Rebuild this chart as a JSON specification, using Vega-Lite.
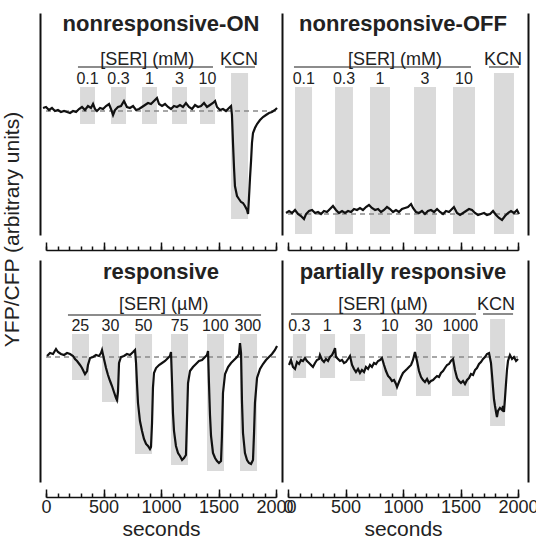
{
"$schema": "https://vega.github.io/schema/vega-lite/v6.json",
"padding": {"left": 0, "top": 12, "right": 0, "bottom": 0},
"config": {"font": "Liberation Sans", "view": {"stroke": null}, "axis": {"grid": false, "domainColor": "#111", "tickColor": "#111", "labelColor": "#222", "titleColor": "#222", "titleFontWeight": "normal"}},
"columns": 2,
"spacing": {"row": 25, "column": 12},
"bounds": "flush",
"datasets": {
"bars": [
{"p":"TL","t0":296,"t1":426,"v0":111,"v1":148},
{"p":"TL","t0":565,"t1":696,"v0":111,"v1":148},
{"p":"TL","t0":835,"t1":965,"v0":111,"v1":148},
{"p":"TL","t0":1096,"t1":1226,"v0":111,"v1":148},
{"p":"TL","t0":1339,"t1":1470,"v0":111,"v1":148},
{"p":"TL","t0":1609,"t1":1757,"v0":16,"v1":162},
{"p":"TR","t0":61,"t1":209,"v0":1,"v1":148},
{"p":"TR","t0":409,"t1":565,"v0":1,"v1":148},
{"p":"TR","t0":713,"t1":887,"v0":1,"v1":148},
{"p":"TR","t0":1096,"t1":1287,"v0":1,"v1":148},
{"p":"TR","t0":1435,"t1":1626,"v0":1,"v1":148},
{"p":"TR","t0":1791,"t1":1965,"v0":1,"v1":162},
{"p":"BL","t0":226,"t1":374,"v0":102,"v1":148},
{"p":"BL","t0":487,"t1":635,"v0":80,"v1":148},
{"p":"BL","t0":774,"t1":922,"v0":28,"v1":148},
{"p":"BL","t0":1087,"t1":1235,"v0":17,"v1":148},
{"p":"BL","t0":1400,"t1":1548,"v0":11,"v1":148},
{"p":"BL","t0":1687,"t1":1835,"v0":11,"v1":148},
{"p":"BR","t0":43,"t1":157,"v0":104,"v1":148},
{"p":"BR","t0":278,"t1":409,"v0":104,"v1":148},
{"p":"BR","t0":539,"t1":670,"v0":101,"v1":148},
{"p":"BR","t0":817,"t1":948,"v0":86,"v1":148},
{"p":"BR","t0":1113,"t1":1243,"v0":86,"v1":148},
{"p":"BR","t0":1426,"t1":1574,"v0":86,"v1":148},
{"p":"BR","t0":1757,"t1":1887,"v0":56,"v1":163}
],
"base": [{"p":"TL","v":124},{"p":"TR","v":21},{"p":"BL","v":125},{"p":"BR","v":125}],
"brackets": [
{"p":"TL","t0":278,"t1":1452,"v":168},
{"p":"TL","t0":1557,"t1":1817,"v":168},
{"p":"TR","t0":52,"t1":1591,"v":168},
{"p":"TR","t0":1748,"t1":2009,"v":168},
{"p":"BL","t0":191,"t1":1870,"v":167},
{"p":"BR","t0":26,"t1":1635,"v":168},
{"p":"BR","t0":1696,"t1":1957,"v":168}
],
"labels": [
{"p":"TL","kind":"title","t":1000,"v":204,"label":"nonresponsive-ON"},
{"p":"TL","kind":"group","t":880,"v":170,"label":"[SER] (mM)"},
{"p":"TL","kind":"group","t":1678,"v":170,"label":"KCN"},
{"p":"TL","kind":"dose","t":361,"v":151,"label":"0.1"},
{"p":"TL","kind":"dose","t":630,"v":151,"label":"0.3"},
{"p":"TL","kind":"dose","t":900,"v":151,"label":"1"},
{"p":"TL","kind":"dose","t":1161,"v":151,"label":"3"},
{"p":"TL","kind":"dose","t":1404,"v":151,"label":"10"},
{"p":"TR","kind":"title","t":1000,"v":204,"label":"nonresponsive-OFF"},
{"p":"TR","kind":"group","t":930,"v":170,"label":"[SER] (mM)"},
{"p":"TR","kind":"group","t":1870,"v":170,"label":"KCN"},
{"p":"TR","kind":"dose","t":137,"v":151,"label":"0.1"},
{"p":"TR","kind":"dose","t":487,"v":151,"label":"0.3"},
{"p":"TR","kind":"dose","t":800,"v":151,"label":"1"},
{"p":"TR","kind":"dose","t":1191,"v":151,"label":"3"},
{"p":"TR","kind":"dose","t":1530,"v":151,"label":"10"},
{"p":"BL","kind":"title","t":1000,"v":203,"label":"responsive"},
{"p":"BL","kind":"group","t":1024,"v":172,"label":"[SER] (µM)"},
{"p":"BL","kind":"dose","t":298,"v":151,"label":"25"},
{"p":"BL","kind":"dose","t":560,"v":151,"label":"30"},
{"p":"BL","kind":"dose","t":848,"v":151,"label":"50"},
{"p":"BL","kind":"dose","t":1163,"v":151,"label":"75"},
{"p":"BL","kind":"dose","t":1472,"v":151,"label":"100"},
{"p":"BL","kind":"dose","t":1755,"v":151,"label":"300"},
{"p":"BR","kind":"title","t":1000,"v":203,"label":"partially responsive"},
{"p":"BR","kind":"group","t":826,"v":172,"label":"[SER] (µM)"},
{"p":"BR","kind":"group","t":1809,"v":172,"label":"KCN"},
{"p":"BR","kind":"dose","t":98,"v":151,"label":"0.3"},
{"p":"BR","kind":"dose","t":341,"v":151,"label":"1"},
{"p":"BR","kind":"dose","t":602,"v":151,"label":"3"},
{"p":"BR","kind":"dose","t":885,"v":151,"label":"10"},
{"p":"BR","kind":"dose","t":1180,"v":151,"label":"30"},
{"p":"BR","kind":"dose","t":1498,"v":151,"label":"1000"}
],
"trace": [
{"p":"TL","t":-26,"v":127},{"p":"TL","t":0,"v":128},{"p":"TL","t":26,"v":125},{"p":"TL","t":52,"v":127},{"p":"TL","t":78,"v":124},{"p":"TL","t":104,"v":125},{"p":"TL","t":130,"v":123},{"p":"TL","t":157,"v":124},{"p":"TL","t":183,"v":123},{"p":"TL","t":209,"v":122},{"p":"TL","t":235,"v":124},{"p":"TL","t":261,"v":123},{"p":"TL","t":287,"v":126},{"p":"TL","t":313,"v":128},{"p":"TL","t":339,"v":125},{"p":"TL","t":365,"v":129},{"p":"TL","t":391,"v":127},{"p":"TL","t":409,"v":131},{"p":"TL","t":426,"v":126},{"p":"TL","t":443,"v":124},{"p":"TL","t":470,"v":127},{"p":"TL","t":496,"v":126},{"p":"TL","t":522,"v":129},{"p":"TL","t":548,"v":131},{"p":"TL","t":565,"v":126},{"p":"TL","t":583,"v":120},{"p":"TL","t":600,"v":125},{"p":"TL","t":626,"v":128},{"p":"TL","t":652,"v":129},{"p":"TL","t":678,"v":134},{"p":"TL","t":704,"v":128},{"p":"TL","t":730,"v":127},{"p":"TL","t":757,"v":129},{"p":"TL","t":783,"v":125},{"p":"TL","t":809,"v":126},{"p":"TL","t":835,"v":128},{"p":"TL","t":861,"v":130},{"p":"TL","t":887,"v":132},{"p":"TL","t":913,"v":131},{"p":"TL","t":939,"v":134},{"p":"TL","t":965,"v":137},{"p":"TL","t":983,"v":131},{"p":"TL","t":1009,"v":129},{"p":"TL","t":1035,"v":131},{"p":"TL","t":1061,"v":128},{"p":"TL","t":1087,"v":126},{"p":"TL","t":1113,"v":129},{"p":"TL","t":1139,"v":128},{"p":"TL","t":1165,"v":130},{"p":"TL","t":1191,"v":128},{"p":"TL","t":1217,"v":132},{"p":"TL","t":1243,"v":128},{"p":"TL","t":1270,"v":126},{"p":"TL","t":1296,"v":130},{"p":"TL","t":1322,"v":128},{"p":"TL","t":1348,"v":129},{"p":"TL","t":1374,"v":132},{"p":"TL","t":1400,"v":128},{"p":"TL","t":1426,"v":130},{"p":"TL","t":1452,"v":132},{"p":"TL","t":1470,"v":134},{"p":"TL","t":1487,"v":128},{"p":"TL","t":1513,"v":125},{"p":"TL","t":1539,"v":126},{"p":"TL","t":1565,"v":124},{"p":"TL","t":1591,"v":127},{"p":"TL","t":1609,"v":129},{"p":"TL","t":1617,"v":120},{"p":"TL","t":1626,"v":92},{"p":"TL","t":1635,"v":67},{"p":"TL","t":1643,"v":49},{"p":"TL","t":1661,"v":39},{"p":"TL","t":1678,"v":36},{"p":"TL","t":1696,"v":33},{"p":"TL","t":1713,"v":32},{"p":"TL","t":1730,"v":29},{"p":"TL","t":1748,"v":25},{"p":"TL","t":1757,"v":21},{"p":"TL","t":1765,"v":37},{"p":"TL","t":1774,"v":57},{"p":"TL","t":1783,"v":74},{"p":"TL","t":1791,"v":92},{"p":"TL","t":1800,"v":102},{"p":"TL","t":1817,"v":107},{"p":"TL","t":1835,"v":111},{"p":"TL","t":1861,"v":115},{"p":"TL","t":1887,"v":118},{"p":"TL","t":1913,"v":120},{"p":"TL","t":1939,"v":122},{"p":"TL","t":1965,"v":123},{"p":"TL","t":1991,"v":125},{"p":"TL","t":2009,"v":127},
{"p":"TR","t":-17,"v":22},{"p":"TR","t":9,"v":24},{"p":"TR","t":35,"v":22},{"p":"TR","t":61,"v":25},{"p":"TR","t":87,"v":21},{"p":"TR","t":113,"v":19},{"p":"TR","t":139,"v":16},{"p":"TR","t":157,"v":21},{"p":"TR","t":183,"v":24},{"p":"TR","t":209,"v":25},{"p":"TR","t":235,"v":22},{"p":"TR","t":261,"v":23},{"p":"TR","t":287,"v":21},{"p":"TR","t":313,"v":24},{"p":"TR","t":339,"v":23},{"p":"TR","t":365,"v":26},{"p":"TR","t":391,"v":29},{"p":"TR","t":417,"v":25},{"p":"TR","t":443,"v":22},{"p":"TR","t":470,"v":24},{"p":"TR","t":496,"v":22},{"p":"TR","t":522,"v":24},{"p":"TR","t":548,"v":23},{"p":"TR","t":574,"v":26},{"p":"TR","t":600,"v":25},{"p":"TR","t":626,"v":27},{"p":"TR","t":652,"v":25},{"p":"TR","t":678,"v":28},{"p":"TR","t":704,"v":30},{"p":"TR","t":730,"v":27},{"p":"TR","t":757,"v":25},{"p":"TR","t":783,"v":26},{"p":"TR","t":809,"v":23},{"p":"TR","t":835,"v":25},{"p":"TR","t":861,"v":28},{"p":"TR","t":887,"v":26},{"p":"TR","t":913,"v":23},{"p":"TR","t":939,"v":25},{"p":"TR","t":965,"v":23},{"p":"TR","t":991,"v":26},{"p":"TR","t":1017,"v":27},{"p":"TR","t":1043,"v":28},{"p":"TR","t":1070,"v":31},{"p":"TR","t":1087,"v":27},{"p":"TR","t":1113,"v":23},{"p":"TR","t":1139,"v":22},{"p":"TR","t":1165,"v":24},{"p":"TR","t":1191,"v":21},{"p":"TR","t":1217,"v":24},{"p":"TR","t":1243,"v":25},{"p":"TR","t":1270,"v":23},{"p":"TR","t":1296,"v":26},{"p":"TR","t":1322,"v":23},{"p":"TR","t":1348,"v":21},{"p":"TR","t":1374,"v":24},{"p":"TR","t":1400,"v":23},{"p":"TR","t":1426,"v":26},{"p":"TR","t":1443,"v":28},{"p":"TR","t":1470,"v":22},{"p":"TR","t":1496,"v":20},{"p":"TR","t":1522,"v":22},{"p":"TR","t":1548,"v":24},{"p":"TR","t":1574,"v":26},{"p":"TR","t":1600,"v":25},{"p":"TR","t":1626,"v":22},{"p":"TR","t":1652,"v":20},{"p":"TR","t":1678,"v":21},{"p":"TR","t":1705,"v":22},{"p":"TR","t":1730,"v":20},{"p":"TR","t":1757,"v":21},{"p":"TR","t":1783,"v":24},{"p":"TR","t":1809,"v":20},{"p":"TR","t":1835,"v":17},{"p":"TR","t":1861,"v":15},{"p":"TR","t":1887,"v":19},{"p":"TR","t":1913,"v":22},{"p":"TR","t":1939,"v":24},{"p":"TR","t":1965,"v":22},{"p":"TR","t":1991,"v":25},{"p":"TR","t":2009,"v":21},
{"p":"BL","t":9,"v":126},{"p":"BL","t":35,"v":129},{"p":"BL","t":61,"v":128},{"p":"BL","t":87,"v":133},{"p":"BL","t":104,"v":130},{"p":"BL","t":130,"v":128},{"p":"BL","t":157,"v":127},{"p":"BL","t":183,"v":129},{"p":"BL","t":209,"v":128},{"p":"BL","t":235,"v":126},{"p":"BL","t":252,"v":123},{"p":"BL","t":270,"v":121},{"p":"BL","t":296,"v":117},{"p":"BL","t":313,"v":114},{"p":"BL","t":330,"v":110},{"p":"BL","t":339,"v":108},{"p":"BL","t":357,"v":111},{"p":"BL","t":365,"v":117},{"p":"BL","t":383,"v":124},{"p":"BL","t":409,"v":125},{"p":"BL","t":435,"v":127},{"p":"BL","t":461,"v":126},{"p":"BL","t":478,"v":129},{"p":"BL","t":487,"v":132},{"p":"BL","t":504,"v":123},{"p":"BL","t":522,"v":114},{"p":"BL","t":539,"v":107},{"p":"BL","t":557,"v":101},{"p":"BL","t":574,"v":96},{"p":"BL","t":591,"v":90},{"p":"BL","t":609,"v":84},{"p":"BL","t":617,"v":82},{"p":"BL","t":626,"v":90},{"p":"BL","t":635,"v":119},{"p":"BL","t":652,"v":125},{"p":"BL","t":678,"v":126},{"p":"BL","t":704,"v":128},{"p":"BL","t":730,"v":127},{"p":"BL","t":757,"v":130},{"p":"BL","t":774,"v":132},{"p":"BL","t":783,"v":119},{"p":"BL","t":791,"v":99},{"p":"BL","t":800,"v":79},{"p":"BL","t":817,"v":61},{"p":"BL","t":835,"v":51},{"p":"BL","t":852,"v":43},{"p":"BL","t":870,"v":38},{"p":"BL","t":887,"v":36},{"p":"BL","t":904,"v":33},{"p":"BL","t":913,"v":35},{"p":"BL","t":922,"v":59},{"p":"BL","t":930,"v":94},{"p":"BL","t":939,"v":109},{"p":"BL","t":957,"v":114},{"p":"BL","t":983,"v":117},{"p":"BL","t":1009,"v":119},{"p":"BL","t":1035,"v":121},{"p":"BL","t":1061,"v":124},{"p":"BL","t":1078,"v":126},{"p":"BL","t":1087,"v":130},{"p":"BL","t":1096,"v":99},{"p":"BL","t":1104,"v":69},{"p":"BL","t":1113,"v":51},{"p":"BL","t":1130,"v":36},{"p":"BL","t":1148,"v":29},{"p":"BL","t":1165,"v":26},{"p":"BL","t":1183,"v":22},{"p":"BL","t":1200,"v":24},{"p":"BL","t":1217,"v":27},{"p":"BL","t":1226,"v":62},{"p":"BL","t":1235,"v":99},{"p":"BL","t":1252,"v":111},{"p":"BL","t":1278,"v":115},{"p":"BL","t":1304,"v":118},{"p":"BL","t":1330,"v":121},{"p":"BL","t":1357,"v":122},{"p":"BL","t":1383,"v":125},{"p":"BL","t":1400,"v":127},{"p":"BL","t":1409,"v":131},{"p":"BL","t":1417,"v":99},{"p":"BL","t":1426,"v":67},{"p":"BL","t":1435,"v":46},{"p":"BL","t":1452,"v":29},{"p":"BL","t":1470,"v":24},{"p":"BL","t":1487,"v":21},{"p":"BL","t":1504,"v":19},{"p":"BL","t":1522,"v":21},{"p":"BL","t":1530,"v":46},{"p":"BL","t":1539,"v":89},{"p":"BL","t":1557,"v":108},{"p":"BL","t":1583,"v":115},{"p":"BL","t":1609,"v":119},{"p":"BL","t":1635,"v":122},{"p":"BL","t":1661,"v":125},{"p":"BL","t":1678,"v":128},{"p":"BL","t":1687,"v":139},{"p":"BL","t":1696,"v":129},{"p":"BL","t":1704,"v":81},{"p":"BL","t":1713,"v":49},{"p":"BL","t":1730,"v":29},{"p":"BL","t":1748,"v":22},{"p":"BL","t":1765,"v":19},{"p":"BL","t":1783,"v":18},{"p":"BL","t":1800,"v":22},{"p":"BL","t":1809,"v":49},{"p":"BL","t":1817,"v":79},{"p":"BL","t":1835,"v":104},{"p":"BL","t":1861,"v":113},{"p":"BL","t":1887,"v":118},{"p":"BL","t":1913,"v":122},{"p":"BL","t":1939,"v":125},{"p":"BL","t":1965,"v":128},{"p":"BL","t":1991,"v":132},{"p":"BL","t":2009,"v":136},
{"p":"BR","t":9,"v":117},{"p":"BR","t":26,"v":122},{"p":"BR","t":43,"v":115},{"p":"BR","t":61,"v":113},{"p":"BR","t":78,"v":120},{"p":"BR","t":96,"v":118},{"p":"BR","t":113,"v":122},{"p":"BR","t":130,"v":121},{"p":"BR","t":148,"v":124},{"p":"BR","t":165,"v":121},{"p":"BR","t":183,"v":119},{"p":"BR","t":200,"v":117},{"p":"BR","t":217,"v":115},{"p":"BR","t":235,"v":119},{"p":"BR","t":252,"v":122},{"p":"BR","t":270,"v":123},{"p":"BR","t":278,"v":127},{"p":"BR","t":296,"v":122},{"p":"BR","t":313,"v":120},{"p":"BR","t":330,"v":123},{"p":"BR","t":348,"v":121},{"p":"BR","t":365,"v":125},{"p":"BR","t":383,"v":127},{"p":"BR","t":400,"v":131},{"p":"BR","t":409,"v":134},{"p":"BR","t":417,"v":125},{"p":"BR","t":435,"v":123},{"p":"BR","t":452,"v":121},{"p":"BR","t":470,"v":122},{"p":"BR","t":487,"v":119},{"p":"BR","t":504,"v":120},{"p":"BR","t":522,"v":123},{"p":"BR","t":539,"v":126},{"p":"BR","t":557,"v":117},{"p":"BR","t":574,"v":113},{"p":"BR","t":591,"v":110},{"p":"BR","t":609,"v":113},{"p":"BR","t":626,"v":109},{"p":"BR","t":643,"v":112},{"p":"BR","t":661,"v":110},{"p":"BR","t":678,"v":115},{"p":"BR","t":696,"v":113},{"p":"BR","t":713,"v":117},{"p":"BR","t":730,"v":115},{"p":"BR","t":748,"v":119},{"p":"BR","t":765,"v":118},{"p":"BR","t":783,"v":121},{"p":"BR","t":800,"v":122},{"p":"BR","t":817,"v":124},{"p":"BR","t":835,"v":117},{"p":"BR","t":852,"v":111},{"p":"BR","t":870,"v":106},{"p":"BR","t":887,"v":104},{"p":"BR","t":904,"v":101},{"p":"BR","t":922,"v":102},{"p":"BR","t":939,"v":98},{"p":"BR","t":948,"v":95},{"p":"BR","t":965,"v":100},{"p":"BR","t":983,"v":105},{"p":"BR","t":1000,"v":109},{"p":"BR","t":1017,"v":111},{"p":"BR","t":1035,"v":113},{"p":"BR","t":1052,"v":115},{"p":"BR","t":1070,"v":117},{"p":"BR","t":1087,"v":122},{"p":"BR","t":1104,"v":130},{"p":"BR","t":1122,"v":121},{"p":"BR","t":1139,"v":111},{"p":"BR","t":1157,"v":105},{"p":"BR","t":1174,"v":102},{"p":"BR","t":1191,"v":100},{"p":"BR","t":1209,"v":103},{"p":"BR","t":1226,"v":99},{"p":"BR","t":1243,"v":101},{"p":"BR","t":1261,"v":102},{"p":"BR","t":1278,"v":104},{"p":"BR","t":1296,"v":106},{"p":"BR","t":1313,"v":105},{"p":"BR","t":1330,"v":109},{"p":"BR","t":1348,"v":111},{"p":"BR","t":1365,"v":114},{"p":"BR","t":1383,"v":117},{"p":"BR","t":1400,"v":118},{"p":"BR","t":1417,"v":121},{"p":"BR","t":1435,"v":123},{"p":"BR","t":1452,"v":112},{"p":"BR","t":1470,"v":104},{"p":"BR","t":1487,"v":101},{"p":"BR","t":1504,"v":99},{"p":"BR","t":1522,"v":101},{"p":"BR","t":1539,"v":98},{"p":"BR","t":1557,"v":102},{"p":"BR","t":1574,"v":104},{"p":"BR","t":1591,"v":108},{"p":"BR","t":1609,"v":107},{"p":"BR","t":1626,"v":112},{"p":"BR","t":1643,"v":114},{"p":"BR","t":1661,"v":118},{"p":"BR","t":1678,"v":120},{"p":"BR","t":1696,"v":123},{"p":"BR","t":1713,"v":125},{"p":"BR","t":1730,"v":128},{"p":"BR","t":1748,"v":129},{"p":"BR","t":1765,"v":119},{"p":"BR","t":1774,"v":107},{"p":"BR","t":1783,"v":94},{"p":"BR","t":1791,"v":83},{"p":"BR","t":1800,"v":76},{"p":"BR","t":1809,"v":70},{"p":"BR","t":1817,"v":65},{"p":"BR","t":1826,"v":71},{"p":"BR","t":1843,"v":74},{"p":"BR","t":1861,"v":72},{"p":"BR","t":1870,"v":76},{"p":"BR","t":1878,"v":70},{"p":"BR","t":1887,"v":84},{"p":"BR","t":1896,"v":99},{"p":"BR","t":1904,"v":112},{"p":"BR","t":1913,"v":121},{"p":"BR","t":1930,"v":127},{"p":"BR","t":1948,"v":123},{"p":"BR","t":1965,"v":125},{"p":"BR","t":1983,"v":121},{"p":"BR","t":2000,"v":123}
]
},
"concat": [
{
"width": 230, "height": 222,
"resolve": {"axis": {"x": "independent", "y": "independent"}},
"layer": [
{"data": {"name": "bars"}, "transform": [{"filter": "datum.p == 'TL'"}], "mark": {"type": "rect", "color": "#dadada"},
 "encoding": {"x": {"field": "t0", "type": "quantitative", "scale": {"domain": [0, 2000], "nice": false, "zero": false}, "axis": {"orient": "bottom", "offset": 15, "values": [0,100,200,300,400,500,600,700,800,900,1000,1100,1200,1300,1400,1500,1600,1700,1800,1900,2000], "tickSize": -4, "tickWidth": 1.5, "labels": false, "domain": true, "domainWidth": 1.5, "title": null}},
  "x2": {"field": "t1"},
  "y": {"field": "v0", "type": "quantitative", "scale": {"domain": [0, 222], "nice": false}, "axis": {"orient": "left", "offset": 6, "domain": true, "domainWidth": 2, "ticks": false, "labels": false, "title": "YFP/CFP (arbitrary units)", "titleFontSize": 21, "titleX": -22, "titleY": 216, "titleAngle": 270, "titleAlign": "center", "titleBaseline": "alphabetic"}},
  "y2": {"field": "v1"}}},
{"data": {"name": "base"}, "transform": [{"filter": "datum.p == 'TL'"}], "mark": {"type": "rule", "color": "#8a8a8a", "strokeDash": [5, 4], "strokeWidth": 1.5},
 "encoding": {"y": {"field": "v", "type": "quantitative", "axis": null}}},
{"data": {"name": "trace"}, "transform": [{"filter": "datum.p == 'TL'"}], "mark": {"type": "line", "color": "#111", "strokeWidth": 2.2},
 "encoding": {"x": {"field": "t", "type": "quantitative", "axis": {"orient": "bottom", "offset": 15, "values": [0, 500, 1000, 1500, 2000], "tickSize": -8, "tickWidth": 1.5, "labels": false, "domain": false, "title": null}},
  "y": {"field": "v", "type": "quantitative", "axis": null}}},
{"data": {"name": "brackets"}, "transform": [{"filter": "datum.p == 'TL'"}], "mark": {"type": "rule", "color": "#8c8c8c", "strokeWidth": 2},
 "encoding": {"x": {"field": "t0", "type": "quantitative", "axis": null}, "x2": {"field": "t1"}, "y": {"field": "v", "type": "quantitative", "axis": null}}},
{"data": {"name": "labels"}, "transform": [{"filter": "datum.p == 'TL' && datum.kind == 'title'"}], "mark": {"type": "text", "fontSize": 22, "fontWeight": "bold", "color": "#222", "baseline": "alphabetic"},
 "encoding": {"x": {"field": "t", "type": "quantitative", "axis": null}, "y": {"field": "v", "type": "quantitative", "axis": null}, "text": {"field": "label"}}},
{"data": {"name": "labels"}, "transform": [{"filter": "datum.p == 'TL' && datum.kind == 'group'"}], "mark": {"type": "text", "fontSize": 18, "color": "#222", "baseline": "alphabetic"},
 "encoding": {"x": {"field": "t", "type": "quantitative", "axis": null}, "y": {"field": "v", "type": "quantitative", "axis": null}, "text": {"field": "label"}}},
{"data": {"name": "labels"}, "transform": [{"filter": "datum.p == 'TL' && datum.kind == 'dose'"}], "mark": {"type": "text", "fontSize": 16, "color": "#222", "baseline": "alphabetic"},
 "encoding": {"x": {"field": "t", "type": "quantitative", "axis": null}, "y": {"field": "v", "type": "quantitative", "axis": null}, "text": {"field": "label"}}}
]
},
{
"width": 230, "height": 222,
"resolve": {"axis": {"x": "independent", "y": "independent"}},
"layer": [
{"data": {"name": "bars"}, "transform": [{"filter": "datum.p == 'TR'"}], "mark": {"type": "rect", "color": "#dadada"},
 "encoding": {"x": {"field": "t0", "type": "quantitative", "scale": {"domain": [0, 2000], "nice": false, "zero": false}, "axis": {"orient": "bottom", "offset": 15, "values": [0,100,200,300,400,500,600,700,800,900,1000,1100,1200,1300,1400,1500,1600,1700,1800,1900,2000], "tickSize": -4, "tickWidth": 1.5, "labels": false, "domain": true, "domainWidth": 1.5, "title": null}},
  "x2": {"field": "t1"},
  "y": {"field": "v0", "type": "quantitative", "scale": {"domain": [0, 222], "nice": false}, "axis": {"orient": "left", "offset": 6, "domain": true, "domainWidth": 2, "ticks": false, "labels": false, "title": null}},
  "y2": {"field": "v1"}}},
{"data": {"name": "base"}, "transform": [{"filter": "datum.p == 'TR'"}], "mark": {"type": "rule", "color": "#8a8a8a", "strokeDash": [5, 4], "strokeWidth": 1.5},
 "encoding": {"y": {"field": "v", "type": "quantitative", "axis": {"orient": "right", "offset": 10, "domain": true, "domainWidth": 2, "ticks": false, "labels": false, "title": null}}}},
{"data": {"name": "trace"}, "transform": [{"filter": "datum.p == 'TR'"}], "mark": {"type": "line", "color": "#111", "strokeWidth": 2.2},
 "encoding": {"x": {"field": "t", "type": "quantitative", "axis": {"orient": "bottom", "offset": 15, "values": [0, 500, 1000, 1500, 2000], "tickSize": -8, "tickWidth": 1.5, "labels": false, "domain": false, "title": null}},
  "y": {"field": "v", "type": "quantitative", "axis": null}}},
{"data": {"name": "brackets"}, "transform": [{"filter": "datum.p == 'TR'"}], "mark": {"type": "rule", "color": "#8c8c8c", "strokeWidth": 2},
 "encoding": {"x": {"field": "t0", "type": "quantitative", "axis": null}, "x2": {"field": "t1"}, "y": {"field": "v", "type": "quantitative", "axis": null}}},
{"data": {"name": "labels"}, "transform": [{"filter": "datum.p == 'TR' && datum.kind == 'title'"}], "mark": {"type": "text", "fontSize": 22, "fontWeight": "bold", "color": "#222", "baseline": "alphabetic"},
 "encoding": {"x": {"field": "t", "type": "quantitative", "axis": null}, "y": {"field": "v", "type": "quantitative", "axis": null}, "text": {"field": "label"}}},
{"data": {"name": "labels"}, "transform": [{"filter": "datum.p == 'TR' && datum.kind == 'group'"}], "mark": {"type": "text", "fontSize": 18, "color": "#222", "baseline": "alphabetic"},
 "encoding": {"x": {"field": "t", "type": "quantitative", "axis": null}, "y": {"field": "v", "type": "quantitative", "axis": null}, "text": {"field": "label"}}},
{"data": {"name": "labels"}, "transform": [{"filter": "datum.p == 'TR' && datum.kind == 'dose'"}], "mark": {"type": "text", "fontSize": 16, "color": "#222", "baseline": "alphabetic"},
 "encoding": {"x": {"field": "t", "type": "quantitative", "axis": null}, "y": {"field": "v", "type": "quantitative", "axis": null}, "text": {"field": "label"}}}
]
},
{
"width": 230, "height": 222,
"resolve": {"axis": {"x": "independent", "y": "independent"}},
"layer": [
{"data": {"name": "bars"}, "transform": [{"filter": "datum.p == 'BL'"}], "mark": {"type": "rect", "color": "#dadada"},
 "encoding": {"x": {"field": "t0", "type": "quantitative", "scale": {"domain": [0, 2000], "nice": false, "zero": false}, "axis": {"orient": "bottom", "offset": 15, "values": [0,100,200,300,400,500,600,700,800,900,1000,1100,1200,1300,1400,1500,1600,1700,1800,1900,2000], "tickSize": -4, "tickWidth": 1.5, "labels": false, "domain": true, "domainWidth": 1.5, "title": null}},
  "x2": {"field": "t1"},
  "y": {"field": "v0", "type": "quantitative", "scale": {"domain": [0, 222], "nice": false}, "axis": {"orient": "left", "offset": 6, "domain": true, "domainWidth": 2, "ticks": false, "labels": false, "title": null}},
  "y2": {"field": "v1"}}},
{"data": {"name": "base"}, "transform": [{"filter": "datum.p == 'BL'"}], "mark": {"type": "rule", "color": "#8a8a8a", "strokeDash": [5, 4], "strokeWidth": 1.5},
 "encoding": {"y": {"field": "v", "type": "quantitative", "axis": null}}},
{"data": {"name": "trace"}, "transform": [{"filter": "datum.p == 'BL'"}], "mark": {"type": "line", "color": "#111", "strokeWidth": 2.2},
 "encoding": {"x": {"field": "t", "type": "quantitative", "axis": {"orient": "bottom", "offset": 15, "values": [0, 500, 1000, 1500, 2000], "format": "d", "tickSize": -8, "tickWidth": 1.5, "labels": true, "labelFontSize": 18, "labelPadding": 9, "labelFlush": false, "labelOverlap": false, "domain": false, "title": "seconds", "titleFontSize": 21, "titlePadding": 2}},
  "y": {"field": "v", "type": "quantitative", "axis": null}}},
{"data": {"name": "brackets"}, "transform": [{"filter": "datum.p == 'BL'"}], "mark": {"type": "rule", "color": "#8c8c8c", "strokeWidth": 2},
 "encoding": {"x": {"field": "t0", "type": "quantitative", "axis": null}, "x2": {"field": "t1"}, "y": {"field": "v", "type": "quantitative", "axis": null}}},
{"data": {"name": "labels"}, "transform": [{"filter": "datum.p == 'BL' && datum.kind == 'title'"}], "mark": {"type": "text", "fontSize": 22, "fontWeight": "bold", "color": "#222", "baseline": "alphabetic"},
 "encoding": {"x": {"field": "t", "type": "quantitative", "axis": null}, "y": {"field": "v", "type": "quantitative", "axis": null}, "text": {"field": "label"}}},
{"data": {"name": "labels"}, "transform": [{"filter": "datum.p == 'BL' && datum.kind == 'group'"}], "mark": {"type": "text", "fontSize": 18, "color": "#222", "baseline": "alphabetic"},
 "encoding": {"x": {"field": "t", "type": "quantitative", "axis": null}, "y": {"field": "v", "type": "quantitative", "axis": null}, "text": {"field": "label"}}},
{"data": {"name": "labels"}, "transform": [{"filter": "datum.p == 'BL' && datum.kind == 'dose'"}], "mark": {"type": "text", "fontSize": 16, "color": "#222", "baseline": "alphabetic"},
 "encoding": {"x": {"field": "t", "type": "quantitative", "axis": null}, "y": {"field": "v", "type": "quantitative", "axis": null}, "text": {"field": "label"}}}
]
},
{
"width": 230, "height": 222,
"resolve": {"axis": {"x": "independent", "y": "independent"}},
"layer": [
{"data": {"name": "bars"}, "transform": [{"filter": "datum.p == 'BR'"}], "mark": {"type": "rect", "color": "#dadada"},
 "encoding": {"x": {"field": "t0", "type": "quantitative", "scale": {"domain": [0, 2000], "nice": false, "zero": false}, "axis": {"orient": "bottom", "offset": 15, "values": [0,100,200,300,400,500,600,700,800,900,1000,1100,1200,1300,1400,1500,1600,1700,1800,1900,2000], "tickSize": -4, "tickWidth": 1.5, "labels": false, "domain": true, "domainWidth": 1.5, "title": null}},
  "x2": {"field": "t1"},
  "y": {"field": "v0", "type": "quantitative", "scale": {"domain": [0, 222], "nice": false}, "axis": {"orient": "left", "offset": 6, "domain": true, "domainWidth": 2, "ticks": false, "labels": false, "title": null}},
  "y2": {"field": "v1"}}},
{"data": {"name": "base"}, "transform": [{"filter": "datum.p == 'BR'"}], "mark": {"type": "rule", "color": "#8a8a8a", "strokeDash": [5, 4], "strokeWidth": 1.5},
 "encoding": {"y": {"field": "v", "type": "quantitative", "axis": {"orient": "right", "offset": 10, "domain": true, "domainWidth": 2, "ticks": false, "labels": false, "title": null}}}},
{"data": {"name": "trace"}, "transform": [{"filter": "datum.p == 'BR'"}], "mark": {"type": "line", "color": "#111", "strokeWidth": 2.2},
 "encoding": {"x": {"field": "t", "type": "quantitative", "axis": {"orient": "bottom", "offset": 15, "values": [0, 500, 1000, 1500, 2000], "format": "d", "tickSize": -8, "tickWidth": 1.5, "labels": true, "labelFontSize": 18, "labelPadding": 9, "labelFlush": false, "labelOverlap": false, "domain": false, "title": "seconds", "titleFontSize": 21, "titlePadding": 2}},
  "y": {"field": "v", "type": "quantitative", "axis": null}}},
{"data": {"name": "brackets"}, "transform": [{"filter": "datum.p == 'BR'"}], "mark": {"type": "rule", "color": "#8c8c8c", "strokeWidth": 2},
 "encoding": {"x": {"field": "t0", "type": "quantitative", "axis": null}, "x2": {"field": "t1"}, "y": {"field": "v", "type": "quantitative", "axis": null}}},
{"data": {"name": "labels"}, "transform": [{"filter": "datum.p == 'BR' && datum.kind == 'title'"}], "mark": {"type": "text", "fontSize": 22, "fontWeight": "bold", "color": "#222", "baseline": "alphabetic"},
 "encoding": {"x": {"field": "t", "type": "quantitative", "axis": null}, "y": {"field": "v", "type": "quantitative", "axis": null}, "text": {"field": "label"}}},
{"data": {"name": "labels"}, "transform": [{"filter": "datum.p == 'BR' && datum.kind == 'group'"}], "mark": {"type": "text", "fontSize": 18, "color": "#222", "baseline": "alphabetic"},
 "encoding": {"x": {"field": "t", "type": "quantitative", "axis": null}, "y": {"field": "v", "type": "quantitative", "axis": null}, "text": {"field": "label"}}},
{"data": {"name": "labels"}, "transform": [{"filter": "datum.p == 'BR' && datum.kind == 'dose'"}], "mark": {"type": "text", "fontSize": 16, "color": "#222", "baseline": "alphabetic"},
 "encoding": {"x": {"field": "t", "type": "quantitative", "axis": null}, "y": {"field": "v", "type": "quantitative", "axis": null}, "text": {"field": "label"}}}
]
}
]
}
